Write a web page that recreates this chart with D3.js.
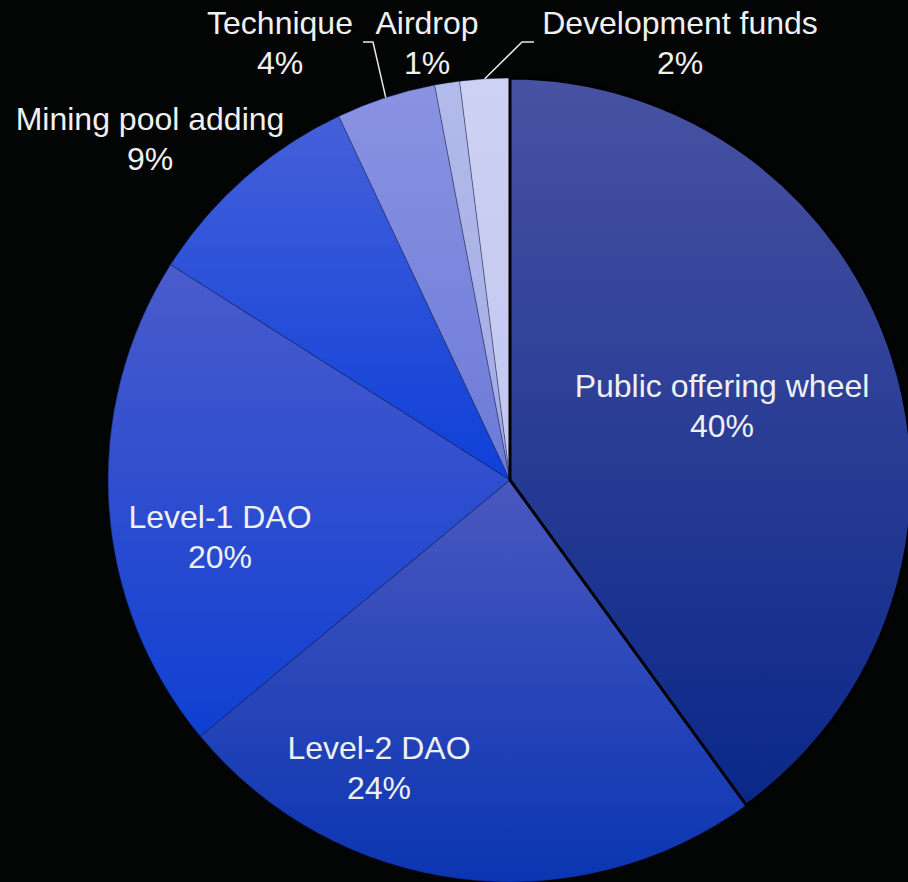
<html>
<head>
<script src="https://d3js.org/d3.v7.min.js"></script>
<style>
  body { margin: 0; background: #030404; }
</style>
</head>
<body>
<script>
  // token allocation
  var names = ["Public offering wheel", "Level-2 DAO", "Level-1 DAO", "Mining pool adding", "Technique", "Airdrop", "Development funds"];
  var shares = [40, 24, 20, 9, 4, 1, 2];

  // gradient top / bottom colour for every slice
  var topColors = ["#4852a2", "#4a58bf", "#4b5bcc", "#4560da", "#8a93e2", "#b3bbeb", "#cdd1f3"];
  var bottomColors = ["#0a2788", "#0a35b2", "#0f40d2", "#0e40d8", "#6c7ad8", "#a2aae4", "#c2c7ef"];

  // label centre offsets from pie centre, and leader elbows for the outside ones
  var labelPos = [[212, -74], [-131, 288], [-290, 57], [-360, -341], [-230, -437], [-83, -437], [170, -437]];
  var elbows = [null, null, null, null, [[-147, -438], [-137, -438]], null, [[24, -438], [12, -438]]];

  var W = 908, H = 882;
  var cx = 510, cy = 480, R = 402;

  var svg = d3.select("body").append("svg")
      .attr("width", W)
      .attr("height", H);

  svg.append("rect").attr("width", W).attr("height", H).attr("fill", "#030404");

  var defs = svg.append("defs");
  names.forEach(function (n, i) {
    var g = defs.append("linearGradient")
        .attr("id", "grad" + i)
        .attr("x1", 0).attr("y1", 0).attr("x2", 0).attr("y2", 1);
    g.append("stop").attr("offset", "0%").attr("stop-color", topColors[i]);
    g.append("stop").attr("offset", "100%").attr("stop-color", bottomColors[i]);
  });

  var pie = d3.pie().sort(null).value(function (d) { return d; });
  var arcs = pie(shares);
  var arc = d3.arc().innerRadius(0).outerRadius(R);

  var g = svg.append("g").attr("transform", "translate(" + cx + "," + cy + ")");

  // small slices first, public offering on top so its black edge shows
  var order = [1, 2, 3, 4, 5, 6, 0];
  g.selectAll("path.slice")
    .data(order.map(function (i) { return arcs[i]; }))
    .enter().append("path")
      .attr("class", "slice")
      .attr("d", arc)
      .attr("fill", function (d) { return "url(#grad" + d.index + ")"; })
      .attr("stroke", function (d) { return d.index === 0 ? "#000" : "rgba(10,20,70,0.45)"; })
      .attr("stroke-width", function (d) { return d.index === 0 ? 3 : 0.8; })
      .attr("stroke-linejoin", "miter");

  // leader lines
  arcs.forEach(function (d, i) {
    if (!elbows[i]) return;
    var mid = (d.startAngle + d.endAngle) / 2;
    var end = [R * Math.sin(mid), -R * Math.cos(mid)];
    var pts = elbows[i].concat([end]);
    g.append("path")
      .attr("d", d3.line()(pts))
      .attr("fill", "none")
      .attr("stroke", "#e8e8e8")
      .attr("stroke-width", 1.5);
  });

  var labels = g.selectAll("text.lbl")
    .data(arcs)
    .enter().append("text")
      .attr("class", "lbl")
      .attr("text-anchor", "middle")
      .attr("font-family", "Liberation Sans, Arial, sans-serif")
      .attr("font-size", 32)
      .attr("fill", "#f0f0f0")
      .attr("transform", function (d, i) { return "translate(" + labelPos[i][0] + "," + labelPos[i][1] + ")"; });

  labels.append("tspan")
    .attr("x", 0).attr("y", -9)
    .text(function (d, i) { return names[i]; });
  labels.append("tspan")
    .attr("x", 0).attr("y", 31)
    .text(function (d) { return d.data + "%"; });
</script>
</body>
</html>
